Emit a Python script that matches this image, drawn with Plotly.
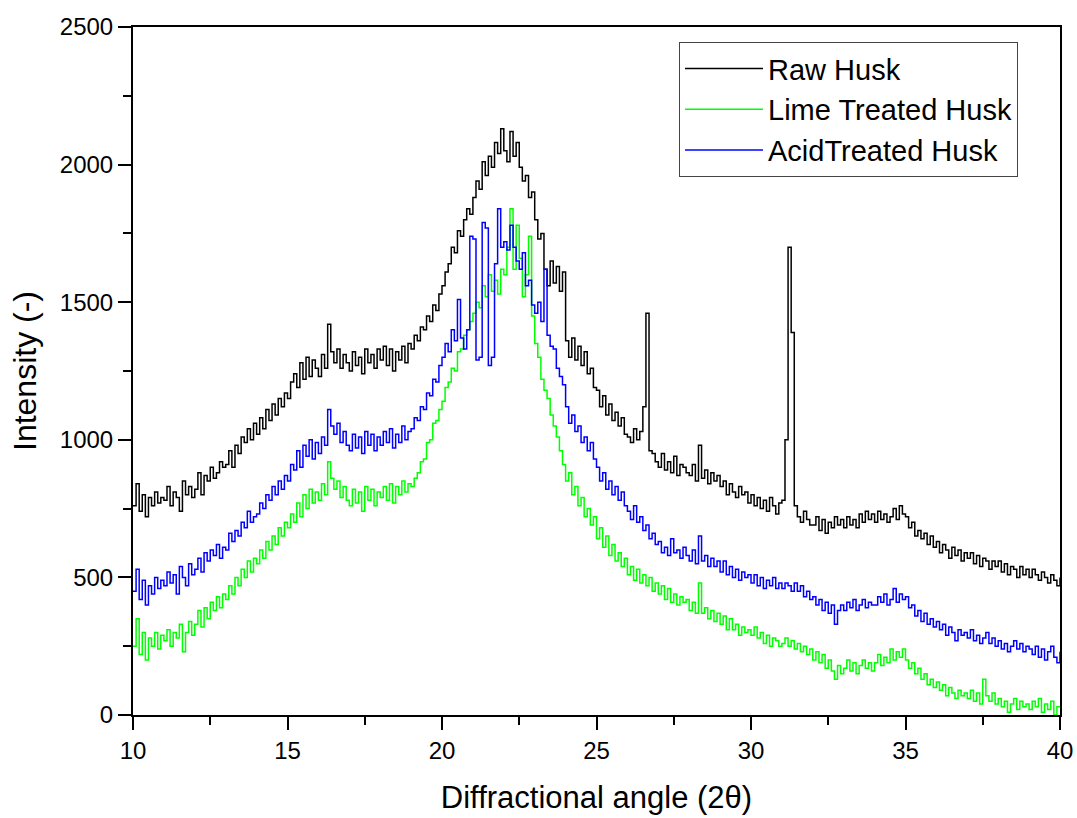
import numpy as np
import plotly.graph_objects as go

# 2-theta positions (degrees), 0.1 deg step from 10 to 40
two_theta = [round(10 + 0.1 * i, 1) for i in range(301)]

raw_husk = [
    760, 840, 740, 800, 720, 790, 760, 810, 770, 790,
    780, 830, 760, 810, 790, 740, 850, 800, 830, 790,
    820, 880, 800, 870, 850, 900, 860, 880, 920, 900,
    910, 960, 900, 980, 950, 1010, 990, 1040, 1000, 1060,
    1020, 1080, 1040, 1110, 1070, 1130, 1090, 1150, 1120, 1170,
    1150, 1210, 1240, 1190, 1280, 1220, 1300, 1230, 1290, 1260,
    1230, 1310, 1260, 1420, 1320, 1280, 1330, 1260, 1310, 1280,
    1250, 1320, 1270, 1300, 1240, 1330, 1280, 1310, 1260, 1330,
    1290, 1340, 1270, 1330, 1250, 1320, 1290, 1340, 1280, 1350,
    1330, 1380, 1360, 1410, 1400, 1450, 1430, 1490, 1470, 1530,
    1560, 1610, 1640, 1700, 1680, 1760, 1740, 1800, 1840, 1820,
    1880, 1940, 1910, 2010, 1960, 2030, 1990, 2080, 2040, 2130,
    2050, 2010, 2120, 2030, 2080, 1990, 1940, 1960, 1880, 1900,
    1800, 1730, 1750, 1620, 1560, 1650, 1570, 1630, 1540, 1610,
    1360, 1300, 1370, 1290, 1340, 1270, 1320, 1240, 1260, 1190,
    1180, 1120, 1160, 1090, 1130, 1070, 1100, 1050, 1080, 1020,
    1010, 990, 1040, 1000, 1030, 1120, 1460, 960, 950, 920,
    900, 950, 890, 920, 880, 940, 870, 910, 900, 880,
    870, 910, 850, 980, 860, 890, 840, 880, 850, 870,
    830, 850, 800, 840, 810, 790, 830, 800, 810, 770,
    800, 760, 790, 750, 780, 740, 790, 760, 730, 770,
    780, 1000, 1700, 1390, 760, 720, 700, 740, 710, 690,
    690, 720, 670, 710, 660, 700, 680, 720, 690, 710,
    680, 720, 690, 710, 680, 730, 700, 740, 710, 730,
    700, 740, 710, 730, 700, 720, 750, 710, 760, 730,
    720, 680, 700, 650, 670, 640, 660, 620, 650, 610,
    630, 590, 620, 600, 570, 610, 580, 600, 560, 590,
    570, 590, 550, 580, 540, 570, 560, 530, 560, 540,
    560, 520, 550, 510, 540, 530, 500, 540, 510, 530,
    500, 530, 510, 490, 520, 500, 480, 510, 490, 470,
    500,
]

lime_treated = [
    250, 350, 220, 300, 200, 280, 250, 300, 240, 290,
    270, 310, 250, 300, 280, 330, 230, 300, 340, 290,
    330, 380, 320, 390, 350, 410, 380, 430, 390, 440,
    420, 470, 440, 500, 470, 530, 500, 560, 520, 570,
    550, 600, 570, 630, 600, 650, 620, 680, 650, 700,
    680, 730, 700, 770, 720, 800, 750, 820, 770, 810,
    780, 840, 800, 920, 860, 820, 850, 790, 830, 780,
    760, 820, 770, 810, 740, 830, 780, 820, 760, 810,
    790, 830, 780, 840, 770, 830, 800, 850, 810, 840,
    830, 860, 880, 920, 930, 990, 1000, 1060, 1070, 1110,
    1140, 1190, 1210, 1260, 1250, 1320, 1330, 1380, 1400, 1430,
    1460, 1500, 1480, 1560, 1520, 1600, 1540, 1580, 1530, 1620,
    1600, 1700, 1840, 1620, 1780, 1660, 1520, 1600, 1740, 1450,
    1350, 1300, 1220, 1180, 1150, 1090, 1050, 1010, 960, 910,
    850, 880, 800, 830, 760, 790, 720, 750, 690, 720,
    640, 680, 610, 650, 580, 620, 560, 590, 540, 570,
    510, 540, 490, 530, 480, 510, 470, 500, 450, 480,
    440, 470, 420, 460, 410, 440, 400, 430, 410, 420,
    380, 410, 370, 480, 370, 390, 350, 380, 340, 370,
    330, 360, 310, 350, 310, 330, 290, 320, 300, 310,
    290, 320, 280, 300, 260, 290, 250, 280, 270, 250,
    260, 280, 250, 270, 240, 260, 230, 250, 220, 240,
    200, 230, 190, 220, 170, 200, 160, 130, 180, 150,
    170, 200, 160, 190, 150, 180, 200, 170, 190, 160,
    190, 220, 180, 210, 190, 240, 200, 230, 210, 240,
    200, 170, 190, 150, 170, 130, 150, 110, 130, 100,
    120, 90, 110, 70, 100, 80, 60, 90, 70, 80,
    60, 90, 50, 80, 40, 130, 70, 50, 80, 40,
    60, 30, 50, 10, 40, 60, 20, 50, 30, 40,
    20, 50, 30, 60, 10, 40, 20, 50, 0, 30,
    30,
]

acid_treated = [
    450, 530, 420, 490, 400, 470, 440, 500, 460, 490,
    470, 520, 480, 510, 440, 540, 500, 470, 550, 510,
    530, 570, 520, 590, 560, 600, 580, 620, 570, 610,
    600, 660, 630, 670, 650, 700, 680, 740, 700, 720,
    730, 770, 750, 800, 780, 830, 800, 850, 820, 870,
    850, 910, 890, 960, 900, 980, 940, 1000, 930, 990,
    950, 1010, 980, 1110, 1050, 1020, 1060, 990, 1030, 980,
    960, 1020, 970, 1010, 950, 1030, 980, 1020, 960, 1010,
    980, 1030, 990, 1040, 970, 1020, 990, 1050, 1000, 1030,
    1040, 1080, 1070, 1120, 1110, 1170, 1160, 1220, 1210, 1270,
    1300, 1350, 1320, 1400, 1360, 1510, 1370, 1330, 1400, 1740,
    1730, 1290, 1300, 1790, 1770, 1270, 1300, 1640, 1840, 1700,
    1720, 1690, 1780, 1700, 1650, 1620, 1680, 1560, 1580, 1490,
    1460, 1500, 1430, 1620, 1380, 1340, 1330, 1260, 1230, 1200,
    1120, 1060, 1090, 1030, 1050, 990, 1010, 960, 990, 930,
    900, 850, 880, 820, 850, 800, 830, 780, 810, 760,
    740, 710, 760, 700, 720, 670, 690, 640, 660, 620,
    630, 590, 610, 580, 640, 590, 600, 570, 610, 580,
    560, 600, 550, 650, 560, 580, 540, 570, 540, 560,
    520, 560, 510, 540, 500, 530, 490, 520, 500, 510,
    480, 510, 470, 500, 460, 490, 470, 500, 460, 480,
    460, 480, 470, 450, 480, 450, 470, 430, 450, 420,
    430, 400, 420, 380, 410, 370, 400, 330, 380, 400,
    380, 410, 390, 420, 380, 400, 420, 390, 410, 400,
    400, 430, 410, 440, 400, 420, 460, 410, 440, 420,
    430, 390, 400, 360, 380, 340, 370, 330, 350, 320,
    340, 310, 330, 290, 320, 300, 270, 310, 290, 300,
    280, 310, 270, 290, 260, 280, 300, 260, 280, 250,
    270, 240, 260, 230, 250, 270, 240, 260, 230, 250,
    240, 220, 250, 210, 240, 200, 230, 250, 210, 190,
    230,
]

series_names = ["Raw Husk", "Lime Treated Husk", "AcidTreated Husk"]
series_values = [raw_husk, lime_treated, acid_treated]
series_colors = ["#000000", "#00FF00", "#0000FF"]

x_tick_vals = [10, 15, 20, 25, 30, 35, 40]
y_tick_vals = [0, 500, 1000, 1500, 2000, 2500]

FONT = "Arial, Liberation Sans, sans-serif"

fig = go.Figure()
for name, vals, col in zip(series_names, series_values, series_colors):
    fig.add_trace(go.Scatter(
        x=two_theta, y=vals, mode="lines", name=name,
        line=dict(color=col, width=1.5, shape="hv"),
        hoverinfo="skip",
    ))

axis_common = dict(
    showline=True, linecolor="black", linewidth=2, mirror=True,
    ticks="outside", ticklen=13, tickwidth=2, tickcolor="black",
    showgrid=False, zeroline=False, automargin=False,
    tickfont=dict(family=FONT, size=24, color="black"),
)

fig.update_xaxes(
    range=[10, 40], tickvals=x_tick_vals,
    minor=dict(ticks="outside", ticklen=8, tickwidth=2, tickcolor="black", dtick=2.5, tick0=10, showgrid=False),
    title=dict(text="Diffractional angle (2θ)", font=dict(family=FONT, size=31, color="black"), standoff=24),
    **axis_common,
)
fig.update_yaxes(
    range=[0, 2500], tickvals=y_tick_vals,
    minor=dict(ticks="outside", ticklen=8, tickwidth=2, tickcolor="black", dtick=250, tick0=0, showgrid=False),
    title=dict(text="Intensity (-)", font=dict(family=FONT, size=32, color="black"), standoff=14),
    **axis_common,
)

fig.update_layout(
    width=1077, height=818,
    margin=dict(l=133, r=17, t=27, b=103),
    paper_bgcolor="white", plot_bgcolor="white",
    showlegend=True,
    legend=dict(
        x=0.589, xanchor="left", y=0.978, yanchor="top",
        bgcolor="white", bordercolor="#444444", borderwidth=1,
        font=dict(family=FONT, size=29, color="black"),
        itemwidth=78, tracegroupgap=0,
    ),
)

fig.write_html("out.html")
